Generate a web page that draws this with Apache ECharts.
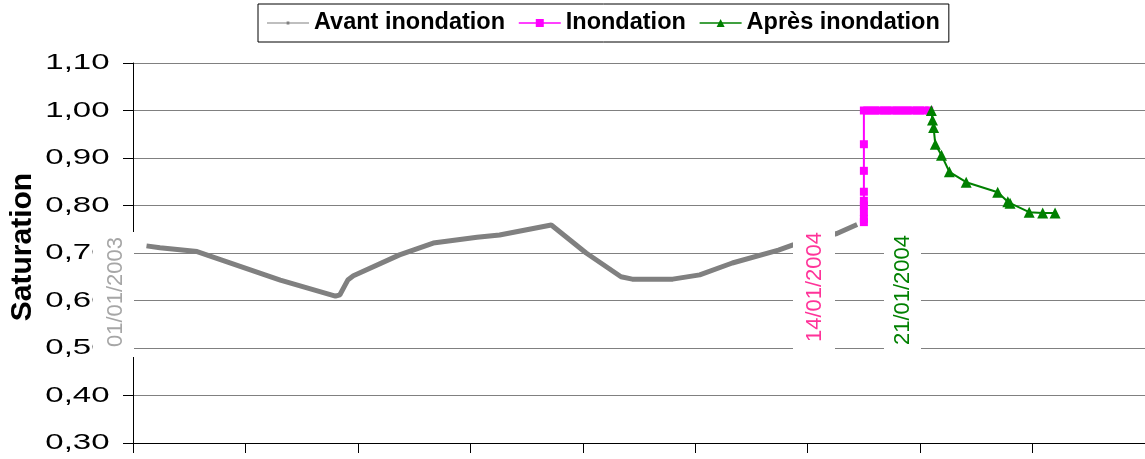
<!DOCTYPE html>
<html>
<head>
<meta charset="utf-8">
<script src="https://cdn.jsdelivr.net/npm/echarts@6/dist/echarts.min.js"></script>
<style>
  html, body { margin: 0; padding: 0; background: #fff; }
  #chart { width: 1145px; height: 459px; }
</style>
</head>
<body>
<div id="chart"></div>
<script>
// Saturation over time: before, during and after the flood
const seriesNames = ['Avant inondation', 'Inondation', 'Après inondation'];

// Before flood (time index, saturation)
const avantX = [12, 24, 57, 131, 180, 184, 191, 196, 237, 267, 306, 326, 372, 403, 434, 444, 480, 504, 533, 574, 587, 626, 644];
const avantY = [0.715, 0.711, 0.703, 0.643, 0.609, 0.612, 0.643, 0.652, 0.696, 0.721, 0.733, 0.738, 0.759, 0.700, 0.650, 0.645, 0.645, 0.654, 0.679, 0.706, 0.717, 0.741, 0.760];

// Flood
const inondX = [650, 650, 650, 650, 650, 650, 650, 650, 650, 653, 657, 660, 664, 668, 671, 675, 679, 682, 686, 689, 693, 697, 700, 704, 708];
const inondY = [0.765, 0.772, 0.786, 0.800, 0.810, 0.829, 0.873, 0.929, 1.000, 1.000, 1.000, 1.000, 1.000, 1.000, 1.000, 1.000, 1.000, 1.000, 1.000, 1.000, 1.000, 1.000, 1.000, 1.000, 1.000];

// After flood
const apresX = [710, 711, 712, 713.5, 719, 726, 741, 769, 778, 780, 797, 809, 820];
const apresY = [1.000, 0.980, 0.964, 0.929, 0.906, 0.871, 0.849, 0.828, 0.808, 0.805, 0.786, 0.784, 0.784];

// Axis ticks
const yTickLabels = ['0,30', '0,40', '0,50', '0,60', '0,70', '0,80', '0,90', '1,00', '1,10'];
const yMin = 0.3, yMax = 1.1, yStep = 0.1;
const xMin = 0, xMax = 900, xStep = 100;

// Date annotations
const dateLabels = ['01/01/2003', '14/01/2004', '21/01/2004'];

const pair = (xs, ys) => xs.map((x, i) => [x, ys[i]]);

const chart = echarts.init(document.getElementById('chart'), null, { renderer: 'canvas' });
const FONT = '"Liberation Sans", Arial, sans-serif';

chart.setOption({
  animation: false,
  backgroundColor: '#fff',
  textStyle: { fontFamily: FONT },
  grid: { left: 133, right: 0, top: 63, bottom: 16, containLabel: false },
  legend: {
    left: 258, top: 4,
    padding: [7, 9, 7, 9],
    borderColor: '#000', borderWidth: 1,
    itemWidth: 42, itemHeight: 10, itemGap: 13,
    textStyle: { fontFamily: FONT, fontWeight: 'bold', fontSize: 23.5, color: '#000' },
    data: [
      // thin grey line with a small dot in the middle
      { name: seriesNames[0], icon: 'path://M0,4.4h42v1.2h-42zM19.6,3.6h2.8v2.8h-2.8z', itemStyle: { color: '#808080' } },
      { name: seriesNames[1], lineStyle: { width: 1.5 } },
      { name: seriesNames[2], lineStyle: { width: 1.5 } }
    ]
  },
  xAxis: {
    type: 'value', min: xMin, max: xMax, interval: xStep,
    axisLine: { show: true, lineStyle: { color: '#000', width: 1 } },
    axisTick: { show: true, length: 10, lineStyle: { color: '#000' } },
    axisLabel: { show: false },
    splitLine: { show: false }
  },
  yAxis: {
    type: 'value', min: yMin, max: yMax, interval: yStep,
    name: 'Saturation', nameLocation: 'middle', nameGap: 95,
    nameTextStyle: { fontFamily: FONT, fontWeight: 'bold', fontSize: 30, color: '#000', padding: [0, 0, 0, 12] },
    axisLine: { show: true, lineStyle: { color: '#000', width: 1 } },
    axisTick: { show: true, length: 10, lineStyle: { color: '#000' } },
    // tick labels are drawn below as wide graphic texts
    axisLabel: { show: false },
    splitLine: { show: true, lineStyle: { color: '#808080', width: 1 } }
  },
  series: [
    {
      name: seriesNames[0], type: 'line', data: pair(avantX, avantY),
      color: '#808080',
      symbol: 'circle', symbolSize: 3, showSymbol: false,
      lineStyle: { color: '#808080', width: 5 },
      z: 2
    },
    {
      name: seriesNames[1], type: 'line', data: pair(inondX, inondY),
      color: '#ff00ff',
      symbol: 'rect', symbolSize: 8,
      itemStyle: { color: '#ff00ff' },
      lineStyle: { color: '#ff00ff', width: 2 },
      z: 3
    },
    {
      name: seriesNames[2], type: 'line', data: pair(apresX, apresY),
      color: '#008000',
      symbol: 'triangle', symbolSize: 11,
      itemStyle: { color: '#008000' },
      lineStyle: { color: '#008000', width: 2 },
      z: 4
    }
  ]
});

// Y tick labels, horizontally widened, placed through the axis scale
const tickTexts = yTickLabels.map((label, i) => {
  const py = chart.convertToPixel({ yAxisIndex: 0 }, yMin + i * yStep);
  return {
    type: 'text', id: 'ytick' + i, z: 50, x: 109.5, y: py, scaleX: 1.5,
    style: { text: label, fill: '#000', font: '22px ' + FONT, align: 'right', verticalAlign: 'middle' }
  };
});

const dateBoxes = [
  { type: 'rect', id: 'box0', z: 100, shape: { x: 93, y: 232, width: 41, height: 125 }, style: { fill: '#fff' } },
  { type: 'text', id: 'date0', z: 101, x: 116, y: 292, rotation: Math.PI / 2,
    style: { text: dateLabels[0], fill: '#a6a6a6', font: '22px ' + FONT, align: 'center', verticalAlign: 'middle' } },
  { type: 'rect', id: 'box1', z: 100, shape: { x: 793, y: 210, width: 42, height: 149 }, style: { fill: '#fff' } },
  { type: 'text', id: 'date1', z: 101, x: 815, y: 287, rotation: Math.PI / 2,
    style: { text: dateLabels[1], fill: '#ff3399', font: '22px ' + FONT, align: 'center', verticalAlign: 'middle' } },
  { type: 'rect', id: 'box2', z: 100, shape: { x: 884, y: 218, width: 37, height: 141 }, style: { fill: '#fff' } },
  { type: 'text', id: 'date2', z: 101, x: 903, y: 290, rotation: Math.PI / 2,
    style: { text: dateLabels[2], fill: '#008000', font: '22px ' + FONT, align: 'center', verticalAlign: 'middle' } }
];

chart.setOption({ graphic: tickTexts.concat(dateBoxes) });
</script>
</body>
</html>
